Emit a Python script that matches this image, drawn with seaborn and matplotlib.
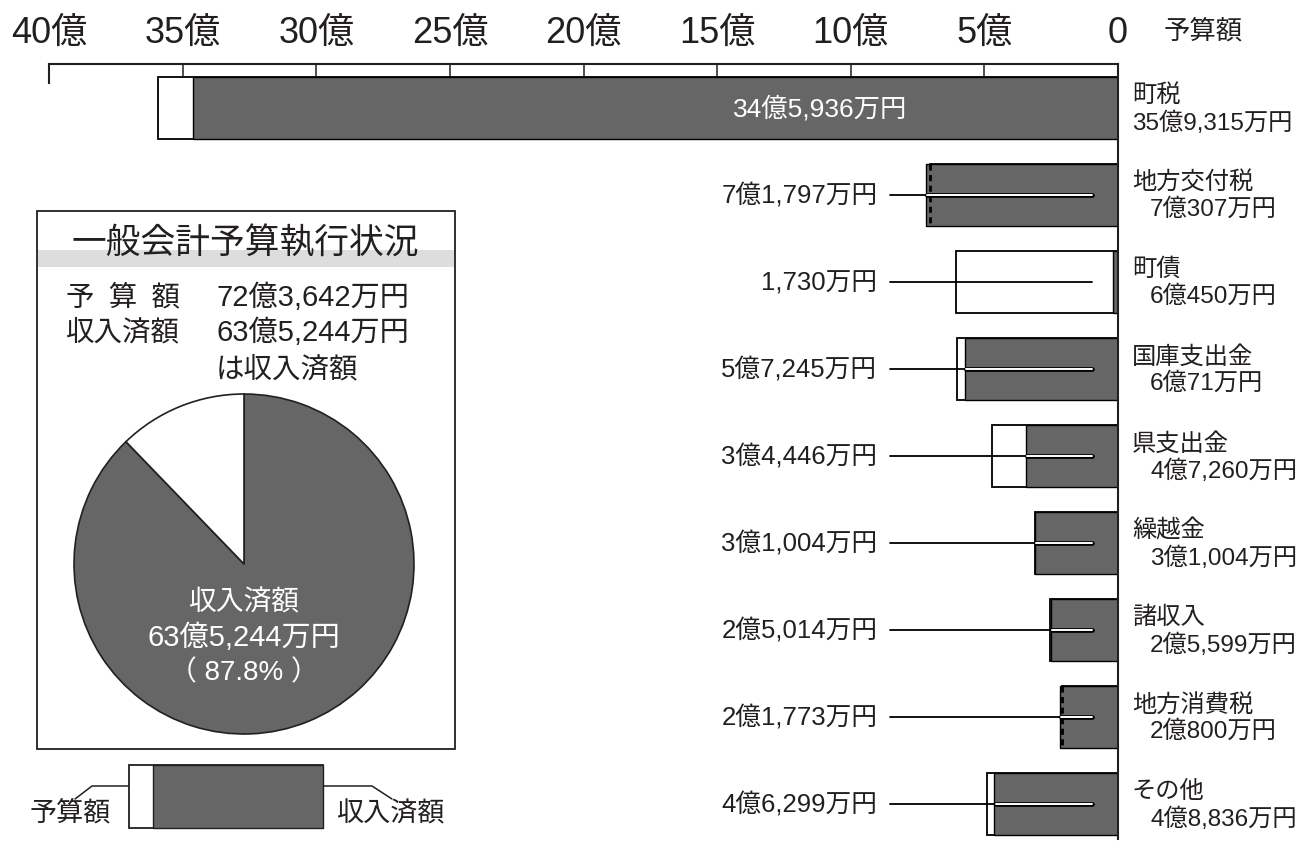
import numpy as np
import pandas as pd
import seaborn as sns
import matplotlib.pyplot as plt

# 一般会計予算執行状況 (単位: 億円)
categories = ["町税", "地方交付税", "町債", "国庫支出金", "県支出金",
              "繰越金", "諸収入", "地方消費税", "その他"]
budget = [35.9315, 7.0307, 6.0450, 6.0071, 4.7260, 3.1004, 2.5599, 2.0800, 4.8836]
received = [34.5936, 7.1797, 0.1730, 5.7245, 3.4446, 3.1004, 2.5014, 2.1773, 4.6299]
budget_labels = ["35億9,315万円", "7億307万円", "6億450万円", "6億71万円", "4億7,260万円",
                 "3億1,004万円", "2億5,599万円", "2億800万円", "4億8,836万円"]
received_labels = ["34億5,936万円", "7億1,797万円", "1,730万円", "5億7,245万円", "3億4,446万円",
                   "3億1,004万円", "2億5,014万円", "2億1,773万円", "4億6,299万円"]
xticks = [0, 5, 10, 15, 20, 25, 30, 35, 40]
xtick_labels = ["0", "5億", "10億", "15億", "20億", "25億", "30億", "35億", "40億"]

total_budget = 72.3642
total_received = 63.5244
total_budget_label = "72億3,642万円"
total_received_label = "63億5,244万円"

DARK = "#666666"
INK = "#231f20"
W, H = 1306, 845

sns.set_style("white")
plt.rcParams["font.family"] = ["Liberation Sans", "Noto Sans CJK JP", "DejaVu Sans"]
plt.rcParams["text.color"] = INK

fig = plt.figure(figsize=(W / 100, H / 100), dpi=100)

# overlay for the frame box and free text, in pixel coords
deco = fig.add_axes([0, 0, 1, 1], zorder=0)
deco.set_xlim(0, W)
deco.set_ylim(H, 0)
deco.axis("off")

# ---- main bar chart ----
ax = fig.add_axes([49 / W, 5 / H, 1069 / W, 775 / H], zorder=1)
ax.set_facecolor("none")
df = pd.DataFrame({"cat": categories, "budget": budget, "received": received})
sns.barplot(data=df, x="budget", y="cat", orient="h", color="white", saturation=1,
            edgecolor="black", linewidth=1.3, width=0.72, errorbar=None, ax=ax)
sns.barplot(data=df, x="received", y="cat", orient="h", color=DARK, saturation=1,
            edgecolor="black", linewidth=1.0, width=0.72, errorbar=None, ax=ax)

ax.set_xlim(40, 0)
ax.set_ylim(8.402, -0.5057)
ax.set_xlabel("")
ax.set_ylabel("")
ax.set_yticks([])
ax.xaxis.set_ticks_position("top")
ax.set_xticks(xticks)
ax.set_xticklabels(xtick_labels)
ax.tick_params(axis="x", direction="in", length=8.6, width=1.1, pad=10,
               labelsize=26, colors=INK)
for side in ["top", "right", "left"]:
    ax.spines[side].set_visible(True)
    ax.spines[side].set_color(INK)
    ax.spines[side].set_linewidth(1.5)
ax.spines["bottom"].set_visible(False)
ax.spines["left"].set_bounds(-0.5057, -0.287)

line_start, line_end, label_x = 8.53, 0.97, 9.0
for i in range(len(categories)):
    b, r = budget[i], received[i]
    if r > b:
        ax.vlines(b, i - 0.36, i + 0.36, colors="black", linewidth=2,
                  linestyles=(0, (2.2, 1.6)), zorder=5)
    if i == 0:
        ax.text(11.15, i, received_labels[i], color="white", fontsize=19,
                ha="center", va="center", zorder=6)
    else:
        ax.plot([line_start, line_end], [i, i], color="black", lw=1.3, zorder=4)
        if r > line_end:
            ax.plot([line_end, r - 0.05], [i, i], color="black", lw=3.4,
                    solid_capstyle="round", zorder=4)
            ax.plot([line_end, r - 0.05], [i, i], color="white", lw=1.4,
                    solid_capstyle="round", zorder=4)
        ax.text(label_x, i, received_labels[i], fontsize=18.5, ha="right", va="center")
    ax.text(-0.52, i - 0.15, categories[i], fontsize=17.5, ha="left", va="center")
    off = -0.52 if i == 0 else -1.2
    ax.text(off, i + 0.16, budget_labels[i], fontsize=17.5, ha="left", va="center")

deco.text(1203, 31, "予算額", fontsize=19, ha="center", va="center")

# ---- inset box ----
deco.add_patch(plt.Rectangle((37, 212), 418, 538, facecolor="white",
                             edgecolor=INK, linewidth=1.3))
deco.add_patch(plt.Rectangle((38, 251), 416, 17, facecolor="#dcdddd", edgecolor="none"))
deco.text(245, 244, "一般会計予算執行状況", fontsize=25, ha="center", va="center")
deco.text(66, 298, "予\u2002算\u2002額", fontsize=20.5, ha="left", va="center")
deco.text(216, 298, total_budget_label, fontsize=21, ha="left", va="center")
deco.text(66, 333, "収入済額", fontsize=20.5, ha="left", va="center")
deco.text(216, 333, total_received_label, fontsize=21, ha="left", va="center")
deco.text(216, 370, "は収入済額", fontsize=20.5, ha="left", va="center")

pax = fig.add_axes([31.5 / W, 67.5 / H, 425 / W, 425 / H], zorder=2)
pax.set_facecolor("none")
pie_vals = [total_received, total_budget - total_received]
pax.pie(pie_vals, colors=[DARK, "white"], startangle=90, counterclock=False,
        wedgeprops=dict(edgecolor=INK, linewidth=1.2))
pax.set_xlim(-1.25, 1.25)
pax.set_ylim(-1.25, 1.25)
pct = total_received / total_budget * 100
pax.text(0, -0.2235, "収入済額", color="white", fontsize=20, ha="center", va="center")
pax.text(0, -0.429, total_received_label, color="white", fontsize=21, ha="center", va="center")
pax.text(0, -0.635, f"（ {pct:.1f}% ）", color="white", fontsize=20, ha="center", va="center")

# ---- legend swatch ----
lax = fig.add_axes([129 / W, 16 / H, 194 / W, 63 / H], zorder=2)
lax.set_xlim(1, 0)
lax.set_ylim(-0.5, 0.5)
lax.axis("off")
lax.barh(0, 1, height=1, color="white", edgecolor=INK, linewidth=1.3, clip_on=False)
lax.barh(0, total_received / total_budget, height=1, color=DARK,
         edgecolor=INK, linewidth=1.0, clip_on=False)
deco.plot([150, 92, 75], [787, 787, 800], color=INK, lw=1.1, zorder=3)
deco.plot([310, 372, 392], [787, 787, 800], color=INK, lw=1.1, zorder=3)
deco.text(70, 814, "予算額", fontsize=19.5, ha="center", va="center")
deco.text(390, 814, "収入済額", fontsize=19.5, ha="center", va="center")

fig.savefig("out.png", dpi=100)
